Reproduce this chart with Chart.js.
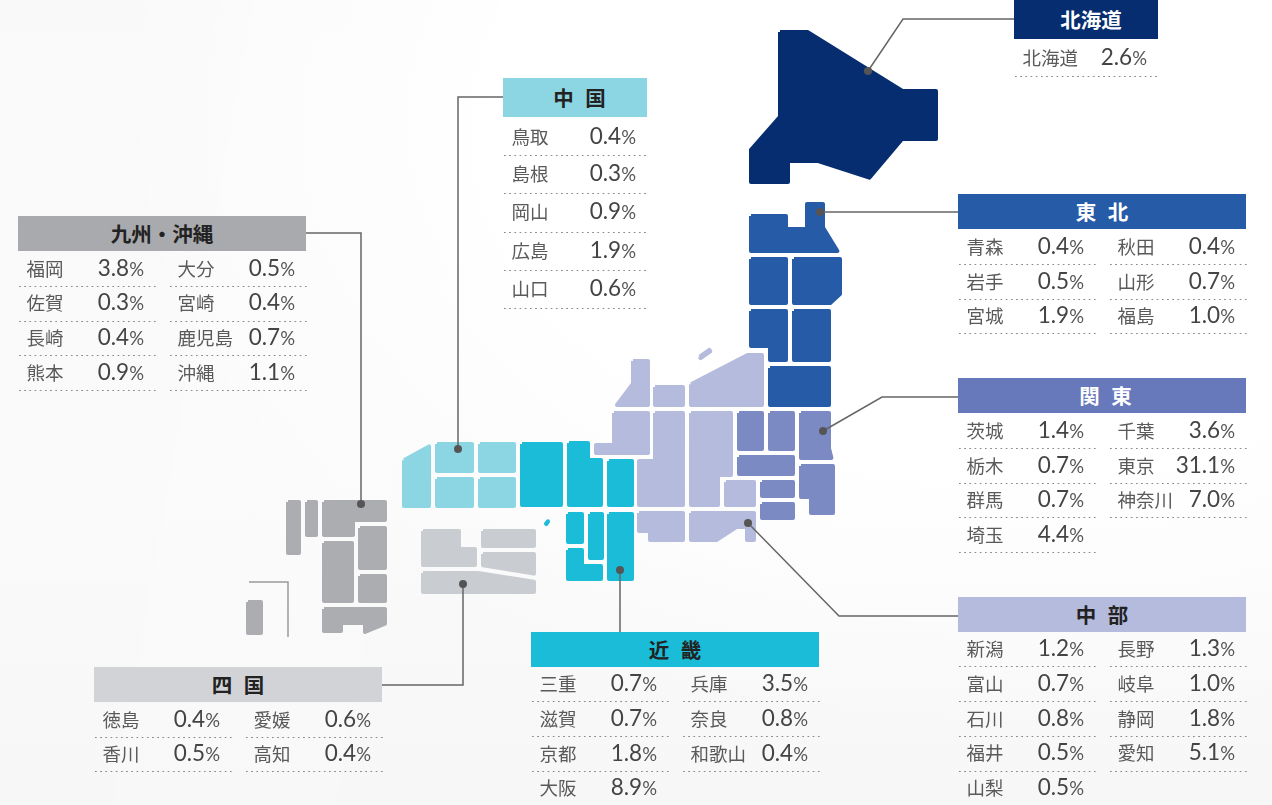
<!DOCTYPE html>
<html lang="ja">
<head>
<meta charset="utf-8">
<title>都道府県別 構成比</title>
<script src="https://cdn.jsdelivr.net/npm/chart.js@4"></script>
<style>
    html, body { margin: 0; padding: 0; }
    body {
        position: relative;
        width: 1272px;
        height: 805px;
        overflow: hidden;
        font-family: "Noto Sans CJK JP", "Noto Sans", sans-serif;
        background:
            linear-gradient(100deg, rgba(255,255,255,0) 0, rgba(255,255,255,0) 250px, rgba(255,255,255,.15) 250px, rgba(255,255,255,.15) 470px, rgba(255,255,255,0) 470px),
            radial-gradient(ellipse 900px 620px at 1000px 120px, #ffffff 0, #ffffff 55%, rgba(255,255,255,0) 100%),
            linear-gradient(180deg, #f9f9f9 0, #fafafa 60%, #f7f7f7 100%);
    }
    #mapChart { position: absolute; left: 0; top: 0; }
    .header {
        position: absolute;
        display: flex;
        align-items: center;
        justify-content: center;
        box-sizing: border-box;
        padding-bottom: 2px;
        font-size: 20.5px;
        font-weight: 700;
        word-spacing: 7px;
        white-space: pre;
    }
    .name, .value { position: absolute; line-height: 24px; white-space: nowrap; }
    .name { font-size: 18.5px; color: #5a5a5a; font-weight: 400; }
    .value { font-family: Lato, sans-serif; font-size: 22.5px; font-weight: 400; color: #444; text-align: right; }
    .value small { font-size: 18.5px; color: #555; }
    .dots {
        position: absolute;
        height: 1px;
        background-image: linear-gradient(90deg, #8a8a8a 0, #8a8a8a 1.6px, transparent 1.6px);
        background-size: 5.2px 1px;
    }
</style>
</head>
<body>
<canvas id="mapChart" width="1272" height="805"></canvas>
<script>
// prefecture shares
const hokkaidoNames = ['北海道'];
const hokkaidoValues = [2.6];
const tohokuNames = ['青森', '岩手', '宮城', '秋田', '山形', '福島'];
const tohokuValues = [0.4, 0.5, 1.9, 0.4, 0.7, 1.0];
const kantoNames = ['茨城', '栃木', '群馬', '埼玉', '千葉', '東京', '神奈川'];
const kantoValues = [1.4, 0.7, 0.7, 4.4, 3.6, 31.1, 7.0];
const chubuNames = ['新潟', '富山', '石川', '福井', '山梨', '長野', '岐阜', '静岡', '愛知'];
const chubuValues = [1.2, 0.7, 0.8, 0.5, 0.5, 1.3, 1.0, 1.8, 5.1];
const kinkiNames = ['三重', '滋賀', '京都', '大阪', '兵庫', '奈良', '和歌山'];
const kinkiValues = [0.7, 0.7, 1.8, 8.9, 3.5, 0.8, 0.4];
const chugokuNames = ['鳥取', '島根', '岡山', '広島', '山口'];
const chugokuValues = [0.4, 0.3, 0.9, 1.9, 0.6];
const shikokuNames = ['徳島', '香川', '愛媛', '高知'];
const shikokuValues = [0.4, 0.5, 0.6, 0.4];
const kyushuNames = ['福岡', '佐賀', '長崎', '熊本', '大分', '宮崎', '鹿児島', '沖縄'];
const kyushuValues = [3.8, 0.3, 0.4, 0.9, 0.5, 0.4, 0.7, 1.1];

// tile outlines of the map, in page pixels
const hokkaidoTiles = [
    [[778, 30], [808, 30], [903, 89], [938, 89], [938, 141], [903, 141], [870, 180], [818, 163], [790, 163], [790, 184], [749, 184], [749, 149], [778, 116]]
];
const tohokuTiles = [
    [[749, 214], [788, 214], [788, 227], [805, 227], [805, 202], [825, 202], [825, 227], [841, 253], [749, 253]],
    [[749, 257], [788, 257], [788, 305], [749, 305]],
    [[792, 257], [842, 257], [842, 295], [831, 305], [792, 305]],
    [[749, 309], [788, 309], [788, 362], [768, 362], [768, 348], [749, 348]],
    [[792, 309], [831, 309], [831, 362], [792, 362]],
    [[768, 366], [831, 366], [831, 407], [768, 407]]
];
const kantoTiles = [
    [[737, 411], [764, 411], [764, 451], [737, 451]],
    [[768, 411], [795, 411], [795, 451], [768, 451]],
    [[799, 411], [831, 411], [831, 448], [834, 460], [799, 460]],
    [[737, 455], [795, 455], [795, 476], [737, 476]],
    [[760, 480], [795, 480], [795, 498], [760, 498]],
    [[760, 502], [795, 502], [795, 520], [760, 520]],
    [[799, 464], [835, 464], [835, 515], [809, 515], [809, 499], [799, 499]]
];
const chubuTiles = [
    [[689, 383], [747, 353], [764, 353], [764, 407], [689, 407]],
    [[697, 356], [710, 347], [713, 352], [700, 361]],
    [[653, 385], [685, 385], [685, 407], [653, 407]],
    [[631, 359], [650, 359], [650, 407], [613, 407], [631, 383]],
    [[612, 411], [650, 411], [650, 455], [594, 455], [594, 443], [612, 443]],
    [[653, 411], [685, 411], [685, 507], [637, 507], [637, 459], [653, 459]],
    [[689, 411], [733, 411], [733, 477], [720, 477], [720, 507], [689, 507]],
    [[724, 480], [756, 480], [756, 507], [724, 507]],
    [[689, 511], [756, 511], [756, 542], [745, 542], [745, 529], [737, 529], [717, 542], [689, 542]],
    [[637, 511], [685, 511], [685, 542], [648, 542], [648, 533], [637, 533]]
];
const kinkiTiles = [
    [[520, 442], [563, 442], [563, 507], [520, 507]],
    [[567, 441], [590, 441], [590, 458], [603, 458], [603, 507], [567, 507]],
    [[607, 459], [634, 459], [634, 507], [607, 507]],
    [[550, 516], [550, 522], [547, 527], [543, 524]],
    [[566, 512], [584, 512], [584, 544], [566, 544]],
    [[588, 512], [604, 512], [604, 560], [588, 560]],
    [[607, 512], [634, 512], [634, 581], [607, 581]],
    [[566, 548], [584, 548], [584, 564], [603, 564], [603, 581], [566, 581]]
];
const chugokuTiles = [
    [[402, 459], [431, 443], [431, 508], [402, 508]],
    [[435, 442], [474, 442], [474, 473], [435, 473]],
    [[478, 442], [516, 442], [516, 473], [478, 473]],
    [[435, 477], [474, 477], [474, 508], [435, 508]],
    [[478, 477], [516, 477], [516, 508], [478, 508]]
];
const shikokuTiles = [
    [[421, 529], [461, 529], [461, 547], [477, 547], [477, 567], [421, 567]],
    [[481, 529], [536, 529], [536, 548], [481, 548]],
    [[481, 552], [536, 552], [536, 576], [481, 567]],
    [[421, 571], [478, 571], [536, 580], [536, 594], [421, 594]]
];
const kyushuTiles = [
    [[286, 500], [301, 500], [301, 555], [286, 555]],
    [[305, 500], [318, 500], [318, 537], [305, 537]],
    [[322, 500], [387, 500], [387, 522], [355, 522], [355, 537], [322, 537]],
    [[322, 541], [354, 541], [354, 603], [322, 603]],
    [[358, 526], [387, 526], [387, 570], [358, 570]],
    [[358, 574], [387, 574], [387, 603], [358, 603]],
    [[322, 607], [387, 607], [387, 625], [363, 635], [363, 625], [343, 625], [343, 633], [322, 633]],
    [[246, 600], [263, 600], [263, 635], [246, 635]]
];
const okinawaInset = [[249, 582], [288, 582], [288, 637]];

// leader lines, from the dot on the map to the panel
const leaders = [
    [[868, 71], [903, 19], [1014, 19]],
    [[820, 212], [958, 212]],
    [[823, 431], [882, 397], [958, 397]],
    [[748, 523], [839, 616], [958, 616]],
    [[458, 449], [458, 97], [503, 97]],
    [[361, 504], [361, 233], [306, 233]],
    [[463, 584], [463, 685], [382, 685]],
    [[620, 570], [620, 632]]
];

const regions = [
    { title: '北海道', names: hokkaidoNames, values: hokkaidoValues, tiles: hokkaidoTiles, map: '#052d6f', head: '#052d6f', ink: '#fff', x: 1014, y: 0, w: 144, h: 39, rows: [58], dots: [76], perCol: 1, nudge: 10 },
    { title: '東 北', names: tohokuNames, values: tohokuValues, tiles: tohokuTiles, map: '#265ba8', head: '#265ba8', ink: '#fff', x: 958, y: 194, w: 288, h: 35, rows: [247, 282, 316], dots: [264, 299, 333], perCol: 3, nudge: 0 },
    { title: '関 東', names: kantoNames, values: kantoValues, tiles: kantoTiles, map: '#7b8ac3', head: '#6779bb', ink: '#fff', x: 958, y: 378, w: 288, h: 35, rows: [431, 466, 500, 535], dots: [448, 483, 517, 552], perCol: 4, nudge: 7 },
    { title: '中 部', names: chubuNames, values: chubuValues, tiles: chubuTiles, map: '#b5bbdd', head: '#b5bbdd', ink: '#222', x: 958, y: 597, w: 288, h: 35, rows: [649, 684, 719, 753, 788], dots: [666, 701, 736, 771, 805], perCol: 5, nudge: 0 },
    { title: '近 畿', names: kinkiNames, values: kinkiValues, tiles: kinkiTiles, map: '#1bbcd8', head: '#1bbcd8', ink: '#222', x: 531, y: 632, w: 288, h: 35, rows: [684, 719, 754, 788], dots: [701, 736, 771, 805], perCol: 4, nudge: 0 },
    { title: '中 国', names: chugokuNames, values: chugokuValues, tiles: chugokuTiles, map: '#8cd6e4', head: '#8cd6e4', ink: '#222', x: 503, y: 78, w: 144, h: 39, rows: [137, 174, 212, 251, 289], dots: [155, 193, 232, 270, 308], perCol: 5, nudge: 9 },
    { title: '四 国', names: shikokuNames, values: shikokuValues, tiles: shikokuTiles, map: '#c9ccd0', head: '#d1d3d6', ink: '#222', x: 94, y: 667, w: 288, h: 35, rows: [720, 754], dots: [737, 771], perCol: 2, nudge: 0 },
    { title: '九州・沖縄', names: kyushuNames, values: kyushuValues, tiles: kyushuTiles, map: '#acadb1', head: '#a9aaae', ink: '#222', x: 18, y: 216, w: 288, h: 35, rows: [269, 303, 338, 373], dots: [286, 321, 355, 390], perCol: 4, nudge: 0 }
];

// pull an outline in by d so the round stroke ends on the traced edge
function insetOutline(outline, d) {
    const n = outline.length;
    let area = 0;
    outline.forEach((p, i) => {
        const q = outline[(i + 1) % n];
        area += p[0] * q[1] - q[0] * p[1];
    });
    const side = area > 0 ? 1 : -1;
    return outline.map((p, i) => {
        const a = outline[(i + n - 1) % n];
        const b = outline[(i + 1) % n];
        const la = Math.hypot(p[0] - a[0], p[1] - a[1]);
        const lb = Math.hypot(b[0] - p[0], b[1] - p[1]);
        const na = [-(p[1] - a[1]) / la * side, (p[0] - a[0]) / la * side];
        const nb = [-(b[1] - p[1]) / lb * side, (b[0] - p[0]) / lb * side];
        const k = d / (1 + na[0] * nb[0] + na[1] * nb[1]);
        return { x: p[0] + (na[0] + nb[0]) * k, y: p[1] + (na[1] + nb[1]) * k };
    });
}

const datasets = [];
regions.forEach(region => {
    region.tiles.forEach(outline => {
        const points = insetOutline(outline, 2);
        points.push(points[0]);
        datasets.push({
            data: points,
            showLine: true,
            fill: 'shape',
            backgroundColor: region.map,
            borderColor: region.map,
            borderWidth: 4,
            borderJoinStyle: 'round',
            pointRadius: 0,
            tension: 0,
            order: 2
        });
    });
});
datasets.push({
    data: okinawaInset.map(p => ({ x: p[0], y: p[1] })),
    showLine: true,
    fill: false,
    borderColor: '#9a9a9a',
    borderWidth: 1.5,
    pointRadius: 0,
    order: 1
});
leaders.forEach(leader => {
    datasets.push({
        data: leader.map(p => ({ x: p[0], y: p[1] })),
        showLine: true,
        fill: false,
        borderColor: '#666',
        borderWidth: 1.5,
        pointBackgroundColor: '#555',
        pointBorderWidth: 0,
        pointRadius: ctx => ctx.dataIndex === 0 ? 4 : 0,
        order: 0
    });
});

new Chart(document.getElementById('mapChart'), {
    type: 'scatter',
    data: { datasets },
    options: {
        responsive: false,
        animation: false,
        layout: { padding: 0, autoPadding: false },
        plugins: { legend: { display: false }, tooltip: { enabled: false } },
        scales: {
            x: { type: 'linear', display: false, min: 0, max: 1272 },
            y: { type: 'linear', display: false, min: 0, max: 805, reverse: true }
        }
    }
});

function addBox(className, text, style) {
    const el = document.createElement('div');
    el.className = className;
    if (text !== null) el.textContent = text;
    Object.assign(el.style, style);
    document.body.appendChild(el);
    return el;
}

// panels with the prefecture names and shares
regions.forEach(region => {
    addBox('header', region.title, {
        left: region.x + 'px', top: region.y + 'px',
        width: region.w + 'px', height: region.h + 'px',
        paddingLeft: region.nudge + 'px',
        background: region.head, color: region.ink
    });
    const wide = region.w > 144;
    region.names.forEach((name, i) => {
        const col = Math.floor(i / region.perCol);
        const row = i % region.perCol;
        const colX = region.x + col * 151;
        addBox('name', name, { left: colX + 8.5 + 'px', top: region.rows[row] - 13 + 'px' });
        const value = addBox('value', null, { left: colX + 'px', top: region.rows[row] - 13 + 'px', width: (wide ? 126 : 133) + 'px' });
        value.innerHTML = region.values[i].toFixed(1) + '<small>%</small>';
        addBox('dots', null, { left: colX + 1 + 'px', top: region.dots[row] + 'px', width: (wide ? 137 : 145) + 'px' });
    });
});
</script>
</body>
</html>
